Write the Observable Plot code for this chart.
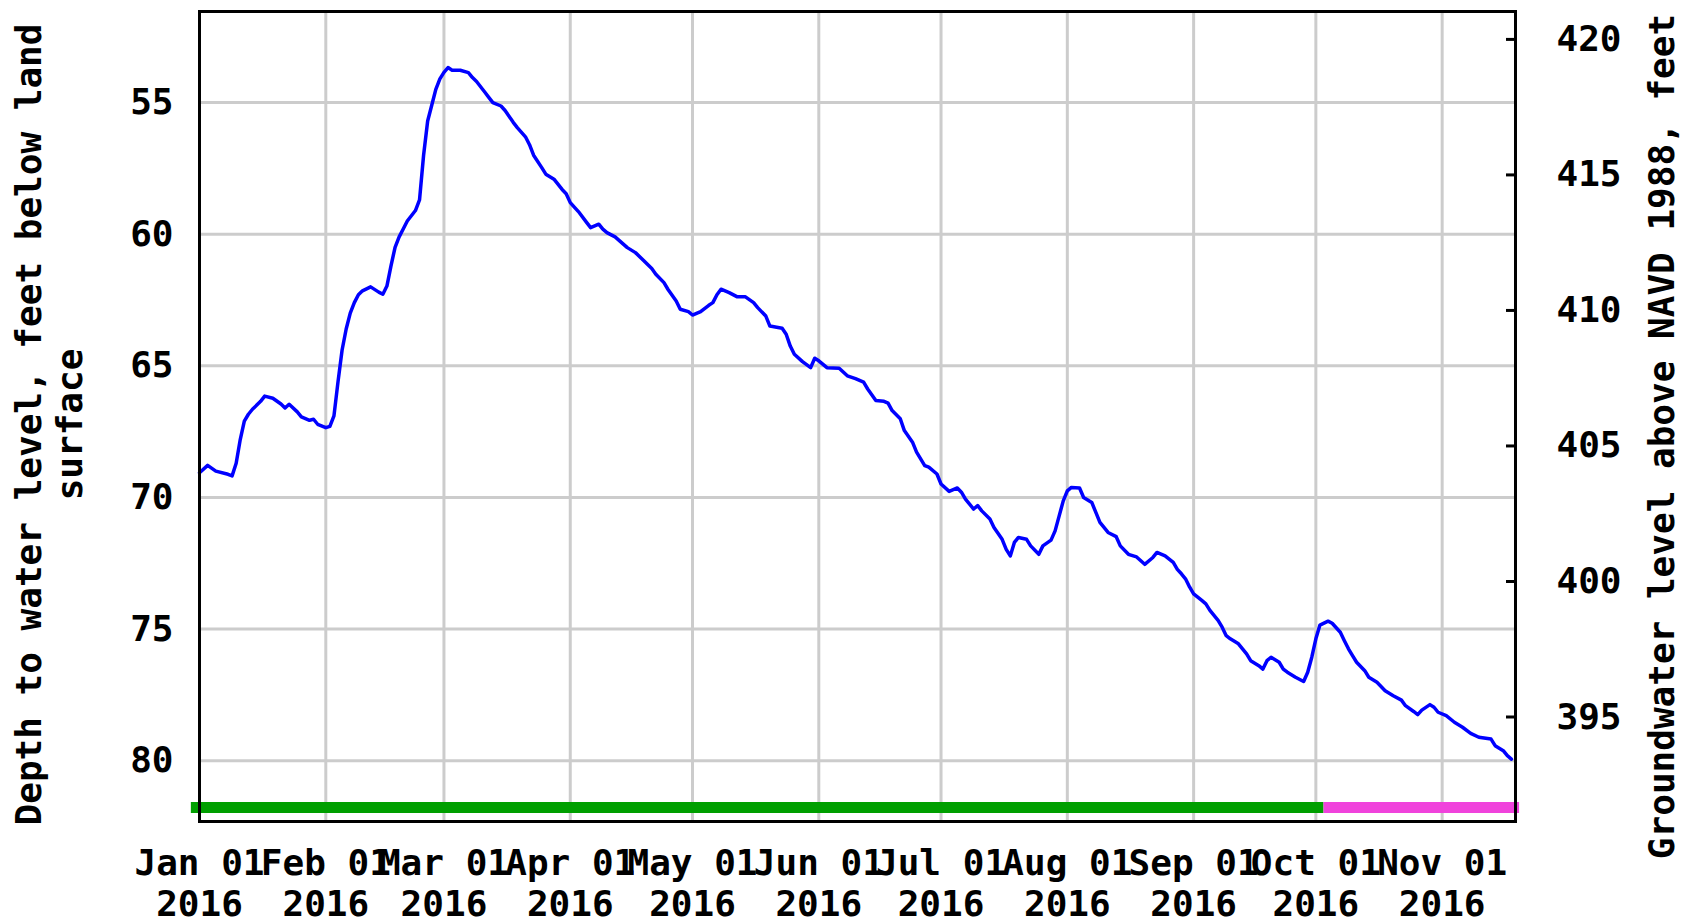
<!DOCTYPE html>
<html><head><meta charset="utf-8">
<script src="https://cdn.jsdelivr.net/npm/d3@7"></script>
<script src="https://cdn.jsdelivr.net/npm/@observablehq/plot@0.6"></script>
<style>html,body{margin:0;padding:0;background:#fff;} #chart svg{display:block;}</style>
</head><body><div id="chart"></div>
<script>
// Days since 2016-01-01 and depth to water level (feet below land surface)
const dayOfYear = [
  0,2,4,7,8,9,10,11,12,13,15,16,18,20,21,22,24,25,27,28,29,31,32,33,
  34,35,36,37,38,39,40,42,44,45,46,47,48,49,50,51,52,53,54,55,56,57,58,59,60,61,62,64,66,67,68,70,71,72,74,75,77,78,80,81,82,
  84,85,87,89,90,91,93,95,96,98,99,100,102,105,107,109,111,112,114,115,117,118,120,121,123,125,126,127,128,130,132,134,136,137,139,140,143,144,145,146,148,150,151,152,154,157,159,161,
  163,164,166,168,169,170,172,173,175,176,178,179,181,182,184,186,187,188,190,191,192,194,195,197,198,199,200,201,203,204,206,207,209,210,211,212,213,214,216,217,219,220,221,223,225,226,228,230,232,234,235,237,239,240,241,242,243,
  244,246,247,248,250,251,252,253,255,256,257,258,260,261,262,263,265,266,267,269,271,272,273,274,275,277,278,280,281,282,283,284,286,287,289,291,293,295,296,298,299,300,302,303,304,306,308,310,312,314,317,318,320,321,322
];
const depthFt = [
  69.06,68.78,69.0,69.12,69.18,68.7,67.8,67.1,66.84,66.65,66.35,66.15,66.23,66.45,66.6,66.46,66.75,66.94,67.07,67.03,67.22,67.35,67.3,66.9,
  65.6,64.4,63.6,63.0,62.6,62.3,62.15,62.0,62.2,62.28,61.97,61.2,60.5,60.1,59.8,59.5,59.3,59.1,58.7,57.0,55.7,55.1,54.5,54.1,53.85,53.67,53.77,53.77,53.86,54.05,54.2,54.6,54.8,55.0,55.13,55.3,55.75,55.95,56.3,56.6,57.0,
  57.47,57.72,57.91,58.3,58.46,58.8,59.14,59.55,59.75,59.62,59.81,59.94,60.1,60.51,60.7,61.0,61.3,61.52,61.84,62.1,62.54,62.85,62.94,63.07,62.94,62.7,62.6,62.3,62.09,62.22,62.38,62.38,62.6,62.79,63.11,63.49,63.57,63.8,64.25,64.56,64.84,65.07,64.71,64.81,65.07,65.09,65.38,65.49,
  65.62,65.88,66.32,66.35,66.42,66.7,67.01,67.46,67.9,68.28,68.79,68.85,69.11,69.49,69.77,69.64,69.8,70.06,70.44,70.31,70.51,70.82,71.14,71.59,71.97,72.22,71.71,71.52,71.59,71.84,72.16,71.84,71.62,71.27,70.7,70.13,69.75,69.62,69.64,70.0,70.19,70.57,70.95,71.33,71.49,71.84,72.16,72.26,72.54,72.28,72.09,72.22,72.47,72.73,72.9,73.09,73.4,
  73.66,73.91,74.04,74.29,74.67,74.93,75.25,75.37,75.56,75.75,75.94,76.2,76.39,76.52,76.2,76.07,76.26,76.52,76.64,76.83,76.99,76.64,76.07,75.37,74.85,74.7,74.78,75.12,75.44,75.75,76.01,76.26,76.58,76.83,77.02,77.34,77.53,77.7,77.91,78.13,78.25,78.08,77.87,77.97,78.16,78.29,78.54,78.73,78.96,79.11,79.18,79.43,79.62,79.81,79.94
];
const depthTicks = [55, 60, 65, 70, 75, 80];
const altitudeTicks = [420, 415, 410, 405, 400, 395];
const monthTicks = ["2016-01-01","2016-02-01","2016-03-01","2016-04-01","2016-05-01","2016-06-01",
  "2016-07-01","2016-08-01","2016-09-01","2016-10-01","2016-11-01"];
const periodNames = ["Approved", "Provisional"];
const periodStart = ["2015-12-30", "2016-10-03"];
const periodEnd = ["2016-10-03", "2016-11-20"];
const periodColors = ["#009f00", "#f043dc"];
const leftTitle = "Depth to water level, feet below land\nsurface";
const rightTitle = "Groundwater level above NAVD 1988, feet";

// altitude axis ↔ depth axis relation
const altToDepth = d3.scaleLinear().domain([420, 395]).range([52.60, 78.34]);
const statusBarDepth = 81.78;

const start = new Date(Date.UTC(2016, 0, 1));
const end = new Date(Date.UTC(2016, 10, 19));
const series = dayOfYear.map((d, i) => ({date: d3.utcDay.offset(start, d), depth: depthFt[i]}));
const monthDates = monthTicks.map(s => new Date(s));
const periods = periodNames.map((n, i) => ({name: n, x1: new Date(periodStart[i]), x2: new Date(periodEnd[i]), color: periodColors[i]}));

const FONT = "'DejaVu Sans Mono', monospace";
const txt = {fontFamily: FONT, fontSize: 36, fontWeight: "bold"};

const chart = Plot.plot({
  width: 1682, height: 919,
  marginLeft: 199, marginRight: 167, marginTop: 11, marginBottom: 98,
  style: {fontFamily: FONT, fontSize: "36px", fontWeight: "bold", background: "#fff", color: "#000", overflow: "visible"},
  x: {type: "utc", domain: [start, end]},
  y: {domain: [51.54, 82.31], reverse: true},
  marks: [
    Plot.gridX(monthDates, {stroke: "#cccccc", strokeOpacity: 1, strokeWidth: 3}),
    Plot.gridY(depthTicks, {stroke: "#cccccc", strokeOpacity: 1, strokeWidth: 3}),
    ...periods.map(p => Plot.ruleY([p], {y: () => statusBarDepth, x1: "x1", x2: "x2", stroke: p.color, strokeWidth: 11})),
    Plot.line(series, {x: "date", y: "depth", stroke: "#0000ff", strokeWidth: 3.5}),
    Plot.frame({stroke: "#000", strokeWidth: 3}),
    Plot.axisX(monthDates, {anchor: "bottom", tickSize: 0, tickPadding: 25, lineHeight: 1.125,
      tickFormat: d3.utcFormat("%b %d\n%Y"), label: null, ...txt}),
    Plot.axisY(depthTicks, {anchor: "left", tickSize: 0, tickPadding: 26, label: null, ...txt}),
    Plot.axisY(altitudeTicks.map(a => altToDepth(a)), {anchor: "right", tickSize: 10, dx: -10, tickPadding: 41,
      strokeWidth: 3, stroke: "#000", tickFormat: d => String(Math.round(altToDepth.invert(d))), label: null, ...txt}),
    Plot.text([leftTitle], {frameAnchor: "left", text: d => d, rotate: -90, textAnchor: "middle", lineAnchor: "middle",
      dx: -151, dy: 8, lineHeight: 1.125, ...txt}),
    Plot.text([rightTitle], {frameAnchor: "right", text: d => d, rotate: -90, textAnchor: "middle", lineAnchor: "middle",
      dx: 147, dy: 20, ...txt})
  ]
});
document.getElementById("chart").appendChild(chart);
</script>
</body></html>
